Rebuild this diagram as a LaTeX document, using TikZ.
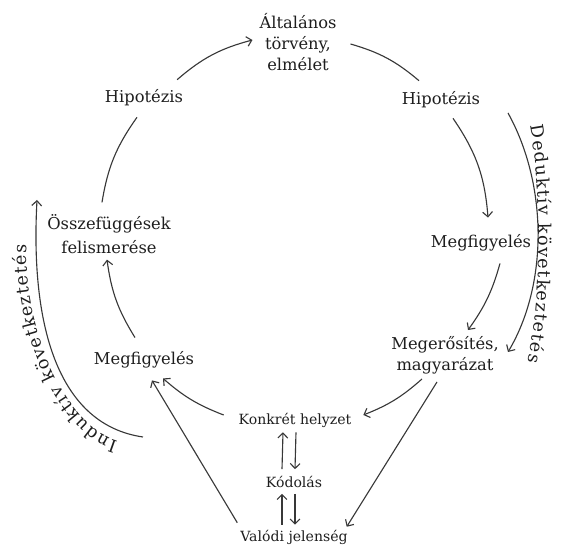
\documentclass[tikz,border=0pt]{standalone}
\usepackage{fontspec}
\setmainfont{DejaVu Serif}
\usetikzlibrary{arrows.meta,decorations.text}
\definecolor{ink}{HTML}{1E1E1E}
\definecolor{wire}{HTML}{383838}
\tikzset{
  lbl/.style={text=ink, align=center, inner sep=2pt, font=\fontsize{11.6}{15}\selectfont},
  lblsm/.style={lbl, font=\fontsize{10}{12}\selectfont},
  every edge/.style={draw=wire, line width=0.8pt},
  >={Straight Barb[length=3.5pt,width=7pt]},
}

\begin{document}
\begin{tikzpicture}
  \useasboundingbox (0,0) rectangle (14.075,13.675);

  \node[lbl] (ta) at (7.45, 12.625) {Általános\\törvény,\\elmélet}; % csúcs
  \node[lbl] (lh) at (3.6, 11.225) {Hipotézis}; % bal
  \node[lbl] (rh) at (11.025, 11.175) {Hipotézis}; % jobb
  \node[lbl, font=\fontsize{11.6}{17}\selectfont] (osz) at (2.725, 7.825) {Összefüggések\\felismerése};
  \node[lbl] (lm) at (3.6, 4.675) {Megfigyelés}; % bal
  \node[lbl] (rm) at (12.025, 7.6) {Megfigyelés}; % jobb
  \node[lbl] (meg) at (11.125, 4.8) {Megerősítés,\\magyarázat};
  \node[lblsm] (kh) at (7.375, 3.175) {Konkrét helyzet};
  \node[lblsm] (kod) at (7.35, 1.625) {Kódolás};
  \node[lblsm] (vj) at (7.35, 0.25) {Valódi jelenség};

  % kör
  \draw
    ([xshift=-.225cm,yshift=.175cm]lh.north east) edge[->, bend left=13] ([xshift=-.1cm,yshift=.05cm]ta.west)
    ([xshift=.275cm,yshift=-.05cm]ta.east) edge[bend left=12] ([xshift=-.55cm,yshift=.2cm]rh.north)
    ([xshift=.3cm,yshift=-.175cm]rh.south) edge[->, bend left=15] ([xshift=.175cm,yshift=.35cm]rm.north)
    ([xshift=.475cm,yshift=-.225cm]rm.south) edge[->, bend left=10] ([xshift=.575cm,yshift=.075cm]meg.north)
    ([xshift=-.575cm,yshift=-.05cm]meg.south) edge[->, bend left=10] ([xshift=.225cm,yshift=.125cm]kh.east)
    ([xshift=-.3cm,yshift=.125cm]kh.west) edge[->, bend left=10] ([xshift=.475cm,yshift=-.175cm]lm.south)
    ([xshift=-.225cm,yshift=.275cm]lm.north) edge[->, bend left=12] ([xshift=-.05cm,yshift=-.075cm]osz.south)
    ([xshift=-.175cm,yshift=.225cm]osz.north) edge[bend left=13] ([xshift=-.175cm,yshift=-.2cm]lh.south)
    ;
  % egyenesek
  \draw
    ([xshift=-.2cm,yshift=-.125cm]meg.south) edge[->] ([xshift=-.1cm]vj.north east)
    ([yshift=.1cm]vj.north west) edge[->] ([xshift=.2cm,yshift=-.225cm]lm.south)
    ([xshift=-.3cm,yshift=.1cm]kod.north) edge[->] ([xshift=-.3cm,yshift=-.05cm]kh.south)
    ([xshift=.025cm,yshift=-.05cm]kh.south) edge[->] ([xshift=.025cm,yshift=.1cm]kod.north)
    ([xshift=-.3cm,yshift=.05cm]vj.north) edge[->] ([xshift=-.3cm,yshift=-.075cm]kod.south)
    ([xshift=.025cm,yshift=-.075cm]kod.south) edge[->] ([xshift=.025cm,yshift=.05cm]vj.north)
    ;

  % oldalsó ívek
  \draw[->, draw=wire, line width=0.8pt] (12.7,10.85) .. controls (13.7,9.05) and (13.7,6.55) .. (12.7,4.875);
  \draw[->, draw=wire, line width=0.8pt] (3.575,2.75) .. controls (1.5,3.05) and (0.75,5.425) .. (0.925,8.675);
  \path[decorate, decoration={text along path, text align=fit to path, text color=ink,
      text={|\fontsize{12.5}{15}\selectfont|Deduktív következtetés}}]
    (13.25,10.525) .. controls (13.55,8.925) and (13.55,6.3) .. (13.2,4.625);
  \path[decorate, decoration={text along path, text align=fit to path, text color=ink,
      text={|\fontsize{12.5}{15}\selectfont|Induktív következtetés}}]
    (2.95,2.65) .. controls (1.55,3.05) and (0.55,5.675) .. (0.675,7.55);
\end{tikzpicture}
\end{document}
